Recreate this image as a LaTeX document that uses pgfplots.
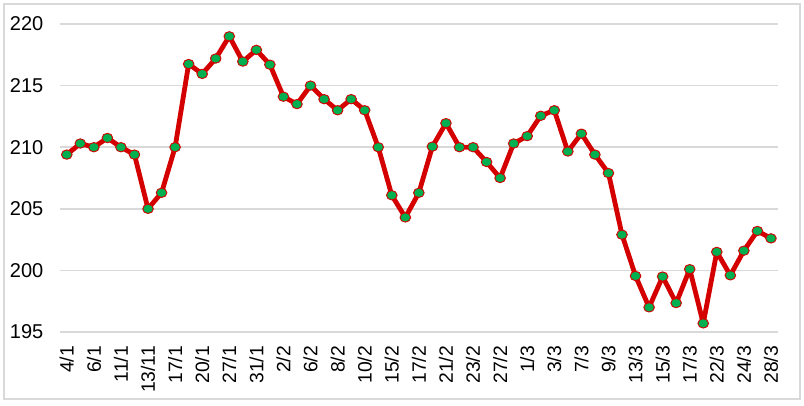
\documentclass[border=0pt]{standalone}
\usepackage{pgfplots}
\pgfplotsset{compat=1.18}
\usepackage{fontspec}
\setmainfont{Liberation Sans}
\definecolor{lred}{RGB}{212,0,0}
\definecolor{mgreen}{RGB}{0,176,80}
\definecolor{gridgray}{RGB}{217,217,217}
\begin{document}
\begin{tikzpicture}
\path (0,0) rectangle (603pt,303.75pt);
\draw[gridgray, line width=1.3pt] (3.2pt,4.5pt) rectangle (599.8pt,300.75pt);
\begin{axis}[
  at={(45pt,54.75pt)}, anchor=south west,
  scale only axis, width=538.3pt, height=231pt,
  xmin=-0.5, xmax=52.5, ymin=195, ymax=220,
  ytick={195,200,...,220},
  xtick={0,2,...,52},
  xticklabels={4/1,6/1,11/1,13/11,17/1,20/1,27/1,31/1,2/2,6/2,8/2,10/2,15/2,17/2,21/2,23/2,27/2,1/3,3/3,7/3,9/3,13/3,15/3,17/3,22/3,24/3,28/3},
  axis line style={draw=none},
  major tick length=0pt,
  ymajorgrids,
  grid style={gridgray, line width=1.1pt},
  /pgf/number format/assume math mode=true,
  yticklabel style={font=\fontsize{15pt}{15pt}\selectfont, anchor=east, xshift=-9pt},
  xticklabel style={font=\fontsize{14.5pt}{14.5pt}\selectfont, rotate=90, anchor=east, xshift=-7pt},
  clip=false,
]
\addplot[lred, line width=3.6pt, line join=round, mark=*, mark size=4pt,
  mark options={fill=mgreen, draw=lred, line width=0.7pt, yscale=0.88}]
table[row sep=\\]{
x y\\
0 209.4\\
1 210.3\\
2 210.0\\
3 210.75\\
4 210.0\\
5 209.4\\
6 205.0\\
7 206.3\\
8 210.0\\
9 216.75\\
10 215.95\\
11 217.2\\
12 219.0\\
13 216.95\\
14 217.9\\
15 216.7\\
16 214.1\\
17 213.5\\
18 215.0\\
19 213.9\\
20 213.0\\
21 213.9\\
22 213.0\\
23 210.0\\
24 206.1\\
25 204.3\\
26 206.3\\
27 210.05\\
28 211.95\\
29 210.0\\
30 210.0\\
31 208.8\\
32 207.5\\
33 210.3\\
34 210.9\\
35 212.55\\
36 213.0\\
37 209.65\\
38 211.1\\
39 209.4\\
40 207.9\\
41 202.9\\
42 199.55\\
43 197.0\\
44 199.5\\
45 197.35\\
46 200.1\\
47 195.7\\
48 201.5\\
49 199.6\\
50 201.6\\
51 203.2\\
52 202.6\\
};
\end{axis}
\end{tikzpicture}
\end{document}
